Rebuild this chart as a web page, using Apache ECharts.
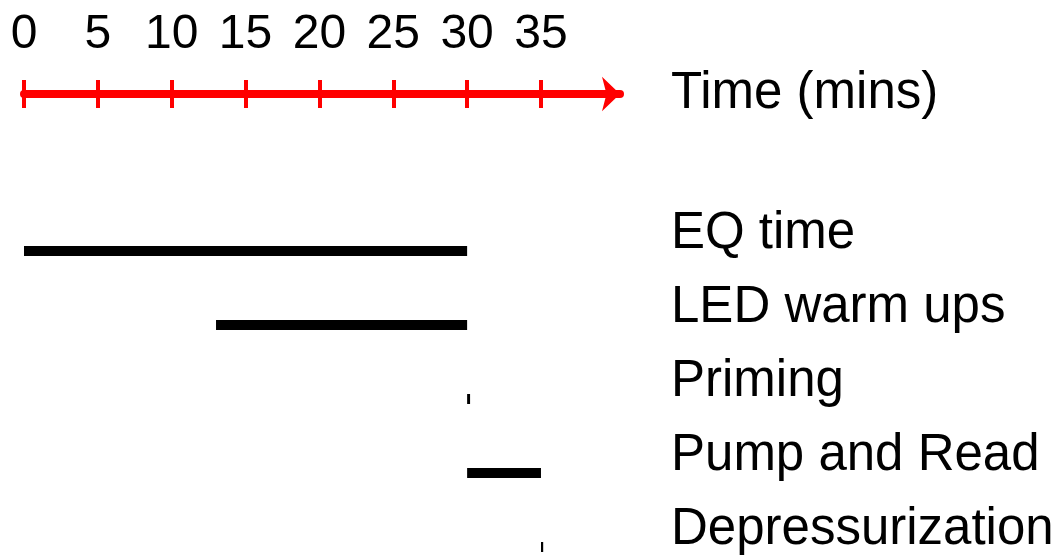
<!DOCTYPE html>
<html>
<head>
<meta charset="utf-8">
<script src="https://cdn.jsdelivr.net/npm/echarts@6/dist/echarts.min.js"></script>
<style>
html,body{margin:0;padding:0;background:#fff;}
#chart{width:1063px;height:559px;}
</style>
</head>
<body>
<div id="chart"></div>
<script>
// Data
var categories = ['EQ time', 'LED warm ups', 'Priming', 'Pump and Read', 'Depressurization'];
var startMins = [0, 13, 30, 30, 35];
var endMins = [30, 30, 30.2, 35, 35.15];
var tickValues = [0, 5, 10, 15, 20, 25, 30, 35];
var axisTitle = 'Time (mins)';

var durations = endMins.map(function (e, i) { return +(e - startMins[i]).toFixed(3); });

var FONT = 'Liberation Sans, Arial, sans-serif';
var chart = echarts.init(document.getElementById('chart'), null, {renderer: 'canvas'});

var AX_MAX = 40.35;
var option = {
  backgroundColor: '#ffffff',
  animation: false,
  grid: {left: 24, width: 596, top: 251, height: 296, containLabel: false},
  xAxis: [
    {
      type: 'value', position: 'bottom', min: 0, max: AX_MAX,
      show: false
    },
    {
      type: 'value', position: 'top', offset: 157, min: 0, max: AX_MAX,
      splitLine: {show: false},
      axisLine: {
        show: true,
        lineStyle: {color: '#ff0000', width: 8},
        symbol: ['none', 'arrow'],
        symbolSize: [26, 18]
      },
      axisTick: {
        show: true, inside: false, length: 14,
        lineStyle: {color: '#ff0000', width: 4},
        customValues: tickValues
      },
      axisLabel: {
        show: true, margin: 35,
        fontSize: 48, fontFamily: FONT, color: '#000',
        customValues: tickValues
      },
      name: axisTitle,
      nameLocation: 'end',
      nameGap: 51,
      nameTextStyle: {fontSize: 51, fontFamily: FONT, color: '#000', align: 'left', verticalAlign: 'middle', padding: [10, 0, 0, 0]}
    },
    {
      type: 'value', position: 'top', offset: 157, min: 0, max: AX_MAX,
      splitLine: {show: false},
      axisLine: {show: false},
      axisTick: {
        show: true, inside: true, length: 14,
        lineStyle: {color: '#ff0000', width: 4},
        customValues: tickValues
      },
      axisLabel: {show: false}
    }
  ],
  yAxis: {
    type: 'category',
    data: categories,
    inverse: true,
    boundaryGap: false,
    position: 'right',
    axisLine: {show: false},
    axisTick: {show: false},
    splitLine: {show: false},
    axisLabel: {
      margin: 51,
      fontSize: 51, fontFamily: FONT, color: '#000',
      align: 'left',
      verticalAlign: 'bottom',
      lineHeight: 34
    }
  },
  series: [
    {
      type: 'bar', stack: 't', xAxisIndex: 0,
      data: startMins,
      barWidth: 10,
      itemStyle: {color: 'transparent'},
      silent: true
    },
    {
      type: 'bar', stack: 't', xAxisIndex: 0,
      data: durations,
      barWidth: 10,
      itemStyle: {color: '#000'}
    }
  ]
};
chart.setOption(option);
</script>
</body>
</html>
